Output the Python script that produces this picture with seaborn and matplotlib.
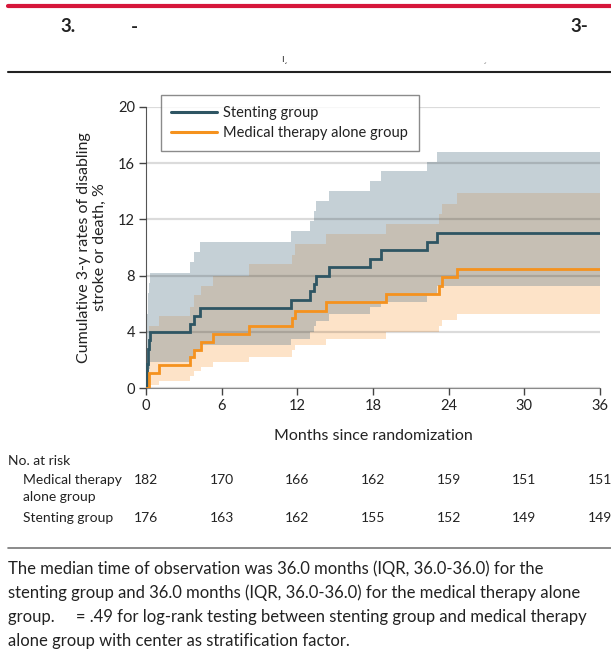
import matplotlib
matplotlib.use("Agg")
import matplotlib.pyplot as plt
import matplotlib.transforms as mtransforms
from matplotlib.lines import Line2D
import numpy as np
import pandas as pd
import seaborn as sns

# cumulative 3-y rates (%), step changes at these months
stent_months = [0, 0.05, 0.15, 0.2, 0.3, 3.5, 3.8, 4.3, 11.5, 13.0, 13.3, 13.5, 14.5, 17.8, 18.6, 22.3, 23.1, 36]
stent_rate = [0, 1.7, 2.8, 3.4, 4.0, 4.6, 5.1, 5.7, 6.3, 6.9, 7.4, 8.0, 8.6, 9.2, 9.8, 10.4, 11.0, 11.0]
stent_upper = [0, 5.3, 6.8, 7.5, 8.2, 8.95, 9.7, 10.4, 11.2, 11.9, 12.6, 13.3, 14.0, 14.7, 15.4, 16.1, 16.8, 16.8]
stent_lower = [0, 0.3, 0.9, 1.4, 1.9, 2.25, 2.6, 3.1, 3.5, 4.0, 4.4, 4.8, 5.3, 5.75, 6.15, 6.7, 7.25, 7.25]

med_months = [0, 0.2, 1.05, 3.5, 3.8, 4.35, 5.3, 8.2, 11.6, 11.8, 14.3, 19.0, 23.2, 23.45, 24.7, 36]
med_rate = [0, 1.1, 1.65, 2.2, 2.75, 3.3, 3.85, 4.4, 5.0, 5.5, 6.1, 6.7, 7.3, 7.9, 8.5, 8.5]
med_upper = [0, 4.4, 5.1, 5.8, 6.6, 7.3, 8.0, 8.8, 9.5, 10.25, 10.95, 11.7, 12.4, 13.1, 13.9, 13.9]
med_lower = [0, 0.25, 0.55, 0.9, 1.2, 1.5, 1.9, 2.25, 2.7, 3.1, 3.5, 4.0, 4.45, 4.85, 5.25, 5.25]

# number at risk table
risk_months = [0, 6, 12, 18, 24, 30, 36]
risk_medical = [182, 170, 166, 162, 159, 151, 151]
risk_stent = [176, 163, 162, 155, 152, 149, 149]

stent_label = "Stenting group"
med_label = "Medical therapy alone group"

caption_lines = [
    "The median time of observation was 36.0 months (IQR, 36.0-36.0) for the",
    "stenting group and 36.0 months (IQR, 36.0-36.0) for the medical therapy alone",
    "group.     = .49 for log-rank testing between stenting group and medical therapy",
    "alone group with center as stratification factor.",
]

STENT_COLOR = "#2e5563"
MED_COLOR = "#f5921e"
STENT_BAND = "#c5d0d6"
MED_BAND = "#fde3c8"
BOTH_BAND = "#c6bfb4"
TEXT = "#222222"

sns.set_style("ticks")
plt.rcParams["font.family"] = ["Lato", "DejaVu Sans"]

W, H = 611, 660
fig = plt.figure(figsize=(W / 100, H / 100), dpi=100)
ax = fig.add_axes([146 / W, 1 - 388.3 / H, 454 / W, 281.6 / H])


def on_grid(months, values, grid):
    s = pd.Series(values, index=months)
    return s.reindex(grid).ffill().to_numpy()


grid = np.array(sorted(set(stent_months) | set(med_months)))
s_lo = on_grid(stent_months, stent_lower, grid)
s_up = on_grid(stent_months, stent_upper, grid)
m_lo = on_grid(med_months, med_lower, grid)
m_up = on_grid(med_months, med_upper, grid)
both_lo = np.maximum(s_lo, m_lo)
both_up = np.minimum(s_up, m_up)

ax.fill_between(grid, s_lo, s_up, step="post", color=STENT_BAND, lw=0, zorder=1)
ax.fill_between(grid, m_lo, m_up, step="post", color=MED_BAND, lw=0, zorder=1.1)
ax.fill_between(grid, both_lo, both_up, where=both_up > both_lo, step="post",
                color=BOTH_BAND, lw=0, zorder=1.2)

curves = pd.concat([
    pd.DataFrame({"month": stent_months, "rate": stent_rate, "group": stent_label}),
    pd.DataFrame({"month": med_months, "rate": med_rate, "group": med_label}),
])
sns.lineplot(data=curves, x="month", y="rate", hue="group",
             palette={stent_label: STENT_COLOR, med_label: MED_COLOR},
             drawstyle="steps-post", estimator=None, sort=False, lw=2.0,
             legend=False, ax=ax, zorder=3, solid_joinstyle="miter")

ax.set_xlim(0, 36)
ax.set_ylim(0, 20)
ax.set_xticks(risk_months)
ax.set_yticks([0, 4, 8, 12, 16, 20])
ax.set_axisbelow(False)
ax.yaxis.grid(True, color="black", alpha=0.14, lw=1.6)
ax.xaxis.grid(False)
sns.despine(ax=ax)
ax.spines["left"].set_color("#555555")
ax.spines["bottom"].set_color("#8a8a8a")
ax.tick_params(axis="both", direction="out", length=5, width=1, color="#444444",
               labelsize=10.5, labelcolor=TEXT, pad=3)

ax.set_xlabel("Months since randomization", fontsize=11.5, color=TEXT, labelpad=11)
ax.set_ylabel("Cumulative 3-y rates of disabling\nstroke or death, %", fontsize=11.5,
              color=TEXT, linespacing=1.15, labelpad=8)

handles = [Line2D([], [], color=STENT_COLOR, lw=2.2), Line2D([], [], color=MED_COLOR, lw=2.2)]
leg = ax.legend(handles, [stent_label, med_label], loc="upper left",
                bbox_to_anchor=(0.032, 1.042), borderaxespad=0, fontsize=10.5,
                frameon=True, fancybox=False, handlelength=3.1, handletextpad=0.45,
                labelspacing=0.4, borderpad=0.75)
leg.get_frame().set_edgecolor("#6e6e6e")
leg.get_frame().set_linewidth(1.0)
for t in leg.get_texts():
    t.set_color(TEXT)

# number at risk
trans = mtransforms.blended_transform_factory(ax.transData, fig.transFigure)
fig.text(8 / W, 1 - 461 / H, "No. at risk", fontsize=10, va="center", color=TEXT)
fig.text(23 / W, 1 - 480 / H, "Medical therapy", fontsize=10, va="center", color=TEXT)
fig.text(23 / W, 1 - 497 / H, "alone group", fontsize=10, va="center", color=TEXT)
fig.text(23 / W, 1 - 518 / H, stent_label, fontsize=10, va="center", color=TEXT)
for m, a, b in zip(risk_months, risk_medical, risk_stent):
    ax.text(m, 1 - 480 / H, str(a), transform=trans, ha="center", va="center",
            fontsize=10, color=TEXT, clip_on=False)
    ax.text(m, 1 - 518 / H, str(b), transform=trans, ha="center", va="center",
            fontsize=10, color=TEXT, clip_on=False)

# header rules and leftover title fragments
fig.add_artist(Line2D([8 / W, 1], [1 - 6 / H] * 2, color="#d6173b", lw=3))
fig.add_artist(Line2D([8 / W, 1], [1 - 72 / H] * 2, color=TEXT, lw=1.5))
fig.add_artist(Line2D([8 / W, 1], [1 - 548 / H] * 2, color="#777777", lw=1.2))
fig.text(60 / W, 1 - 27 / H, "3.", fontsize=13.5, fontweight="bold", va="center", color=TEXT)
fig.text(131 / W, 1 - 27 / H, "-", fontsize=13.5, fontweight="bold", va="center", color=TEXT)
fig.text(570 / W, 1 - 27 / H, "3-", fontsize=13.5, fontweight="bold", va="center", color=TEXT)
fig.text(281 / W, 1 - 59 / H, "ı\u02cf", fontsize=8, va="center", color="#444444")
fig.text(483 / W, 1 - 59 / H, "\u02cf", fontsize=8, va="center", color="#888888")

for i, line in enumerate(caption_lines):
    fig.text(8 / W, 1 - (569 + 24 * i) / H, line, fontsize=12, va="center", color=TEXT)

fig.savefig("out.png", dpi=100)
